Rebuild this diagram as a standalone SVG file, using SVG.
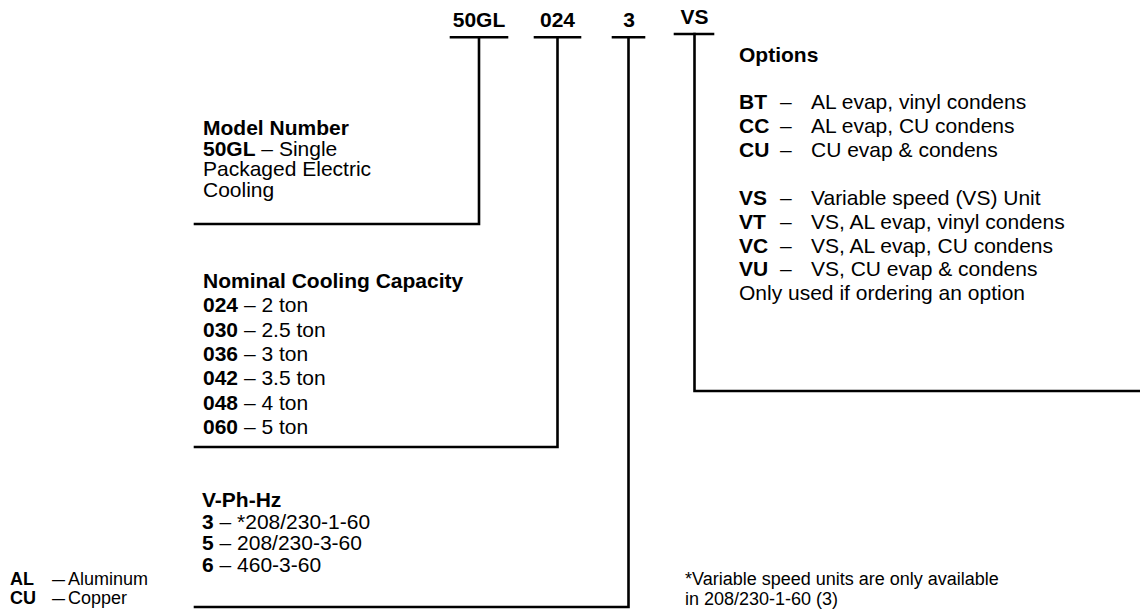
<svg xmlns="http://www.w3.org/2000/svg" width="1140" height="610" viewBox="0 0 1140 610">
  <style>
    text { font-family: "Liberation Sans", Arial, Helvetica, sans-serif; fill: #000; }
    .t { font-size: 21px; }
    .s { font-size: 18px; }
    .b { font-weight: bold; }
    .code { font-size: 21px; font-weight: bold; text-anchor: middle; }
    .ln { stroke: #000; stroke-width: 2.6; fill: none; stroke-linecap: square; }
  </style>
  <rect width="1140" height="610" fill="#fff"/>

  <g id="connectors">
    <line class="ln" x1="451" y1="37.3" x2="507" y2="37.3"/>
    <polyline class="ln" points="479,37.3 479,224 195,224"/>
    <line class="ln" x1="535" y1="37.3" x2="580" y2="37.3"/>
    <polyline class="ln" points="557.5,37.3 557.5,447 195,447"/>
    <line class="ln" x1="613" y1="37.3" x2="644" y2="37.3"/>
    <polyline class="ln" points="628.5,37.3 628.5,607 195,607"/>
    <line class="ln" x1="675" y1="34" x2="713" y2="34"/>
    <polyline class="ln" points="694.5,34 694.5,391 1142,391"/>
  </g>

  <g id="code-50GL"><text class="code" x="479" y="26.7">50GL</text></g>
  <g id="code-024"><text class="code" x="557.5" y="26.7">024</text></g>
  <g id="code-3"><text class="code" x="629" y="26.7">3</text></g>
  <g id="code-VS"><text class="code" x="694.5" y="24">VS</text></g>

  <g id="model-number">
    <text x="203" y="135" class="t b">Model Number</text>
    <text x="203" y="155.5" class="t"><tspan class="b">50GL</tspan> – Single</text>
    <text x="203" y="176" class="t">Packaged Electric</text>
    <text x="203" y="196.5" class="t">Cooling</text>
  </g>

  <g id="nominal-capacity">
    <text x="203" y="288" class="t b">Nominal Cooling Capacity</text>
    <text x="203" y="312.3" class="t"><tspan class="b">024</tspan> – 2 ton</text>
    <text x="203" y="336.6" class="t"><tspan class="b">030</tspan> – 2.5 ton</text>
    <text x="203" y="360.9" class="t"><tspan class="b">036</tspan> – 3 ton</text>
    <text x="203" y="385.2" class="t"><tspan class="b">042</tspan> – 3.5 ton</text>
    <text x="203" y="409.5" class="t"><tspan class="b">048</tspan> – 4 ton</text>
    <text x="203" y="433.8" class="t"><tspan class="b">060</tspan> – 5 ton</text>
  </g>

  <g id="voltage">
    <text x="202" y="507" class="t b">V-Ph-Hz</text>
    <text x="202" y="528.5" class="t"><tspan class="b">3</tspan> – *208/230-1-60</text>
    <text x="202" y="550" class="t"><tspan class="b">5</tspan> – 208/230-3-60</text>
    <text x="202" y="571.5" class="t"><tspan class="b">6</tspan> – 460-3-60</text>
  </g>

  <g id="options">
    <text x="739" y="61.7" class="t b">Options</text>
    <text x="739" y="109" class="t b">BT</text><text x="780" y="109" class="t">–</text><text x="811" y="109" class="t">AL evap, vinyl condens</text>
    <text x="739" y="133" class="t b">CC</text><text x="780" y="133" class="t">–</text><text x="811" y="133" class="t">AL evap, CU condens</text>
    <text x="739" y="157" class="t b">CU</text><text x="780" y="157" class="t">–</text><text x="811" y="157" class="t">CU evap &amp; condens</text>
    <text x="739" y="205" class="t b">VS</text><text x="780" y="205" class="t">–</text><text x="811" y="205" class="t">Variable speed (VS) Unit</text>
    <text x="739" y="229" class="t b">VT</text><text x="780" y="229" class="t">–</text><text x="811" y="229" class="t">VS, AL evap, vinyl condens</text>
    <text x="739" y="252.5" class="t b">VC</text><text x="780" y="252.5" class="t">–</text><text x="811" y="252.5" class="t">VS, AL evap, CU condens</text>
    <text x="739" y="276" class="t b">VU</text><text x="780" y="276" class="t">–</text><text x="811" y="276" class="t">VS, CU evap &amp; condens</text>
    <text x="739" y="300" class="t">Only used if ordering an option</text>
  </g>

  <g id="legend">
    <text x="10" y="585" class="s b">AL</text><text x="52" y="585" class="s" textLength="13" lengthAdjust="spacingAndGlyphs">—</text><text x="68" y="585" class="s">Aluminum</text>
    <text x="10" y="604" class="s b">CU</text><text x="52" y="604" class="s" textLength="13" lengthAdjust="spacingAndGlyphs">—</text><text x="68" y="604" class="s">Copper</text>
  </g>

  <g id="footnote">
    <text x="685" y="585" class="s">*Variable speed units are only available</text>
    <text x="685" y="605" class="s">in 208/230-1-60 (3)</text>
  </g>
</svg>
